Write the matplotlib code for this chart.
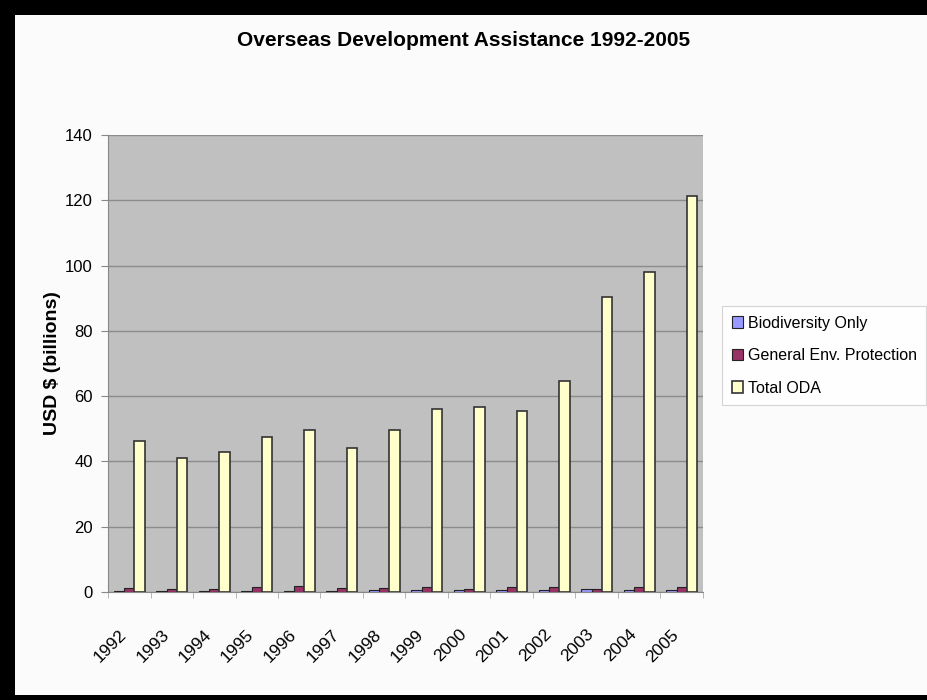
import numpy as np
import matplotlib.pyplot as plt
import matplotlib.transforms as mtransforms
from matplotlib.patches import Rectangle

years = ["1992", "1993", "1994", "1995", "1996", "1997", "1998",
         "1999", "2000", "2001", "2002", "2003", "2004", "2005"]
biodiversity = [0.4, 0.4, 0.3, 0.4, 0.4, 0.4, 0.6, 0.5, 0.5, 0.6, 0.6, 0.9, 0.6, 0.6]
general_env = [1.2, 1.0, 0.8, 1.6, 1.8, 1.1, 1.1, 1.5, 1.0, 1.5, 1.6, 0.9, 1.5, 1.5]
total_oda = [46.3, 41.0, 43.0, 47.5, 49.6, 44.0, 49.6, 56.0, 56.6, 55.5, 64.6, 90.4, 98.0, 121.3]

plt.rcParams['font.family'] = ['Liberation Sans', 'DejaVu Sans']

fig = plt.figure(figsize=(9.28, 7.0), dpi=100, facecolor="black")
# white card inside the black frame
card = Rectangle((15 / 928, 5 / 700), 1, 680 / 700, transform=fig.transFigure,
                 facecolor="#fbfbfb", edgecolor="none", zorder=-1)
fig.add_artist(card)

ax = fig.add_axes([0.1164, 0.1543, 0.6411, 0.6528])
ax.set_zorder(2)
ax.set_facecolor("#c0c0c0")

x = np.arange(len(years))
w = 0.24
ax.bar(x - w, biodiversity, w, color="#9999ff", edgecolor="#222222", linewidth=0.8,
       label="Biodiversity Only", zorder=3)
ax.bar(x, general_env, w, color="#993366", edgecolor="#222222", linewidth=0.8,
       label="General Env. Protection", zorder=3)
ax.bar(x + w, total_oda, w, color="#ffffcc", edgecolor="#333333", linewidth=1.2,
       label="Total ODA", zorder=3)

ax.set_xlim(-0.5, len(years) - 0.5)
ax.set_ylim(0, 140)
ax.set_yticks(range(0, 141, 20))
ax.set_xticks(x)
ax.set_xticks(np.arange(len(years) + 1) - 0.5, minor=True)
ax.set_xticklabels(years, rotation=45, ha="right", va="top", fontsize=12.5)
shift = mtransforms.ScaledTranslation(-4 / 100, 0, fig.dpi_scale_trans)
for lab in ax.get_xticklabels():
    lab.set_transform(lab.get_transform() + shift)
ax.tick_params(axis="y", labelsize=12, length=5, color="#888888", pad=6)
ax.tick_params(axis="x", which="major", length=0, pad=25)
ax.tick_params(axis="x", which="minor", length=4, color="#aaaaaa")
ax.yaxis.grid(True, color="#8c8c8c", linewidth=1, zorder=1)
ax.set_axisbelow(True)
for s in ["top", "right"]:
    ax.spines[s].set_visible(False)
ax.spines["left"].set_color("#888888")
ax.spines["bottom"].set_color("#888888")

ax.set_ylabel("USD $ (billions)", fontsize=14, fontweight="bold", labelpad=3)
fig.text(0.5, 0.942, "Overseas Development Assistance 1992-2005", ha="center",
         va="center", fontsize=15, fontweight="bold")

leg = fig.legend(loc="center left", bbox_to_anchor=(0.778, 0.492), fontsize=11.5,
                 frameon=True, fancybox=False, edgecolor="#cccccc", handlelength=0.7,
                 handleheight=0.7, handletextpad=0.3, labelspacing=1.1, borderpad=0.6,
                 borderaxespad=0)
leg.get_frame().set_linewidth(0.8)
leg.set_zorder(3)

fig.savefig("out.png", dpi=100, facecolor=fig.get_facecolor())
